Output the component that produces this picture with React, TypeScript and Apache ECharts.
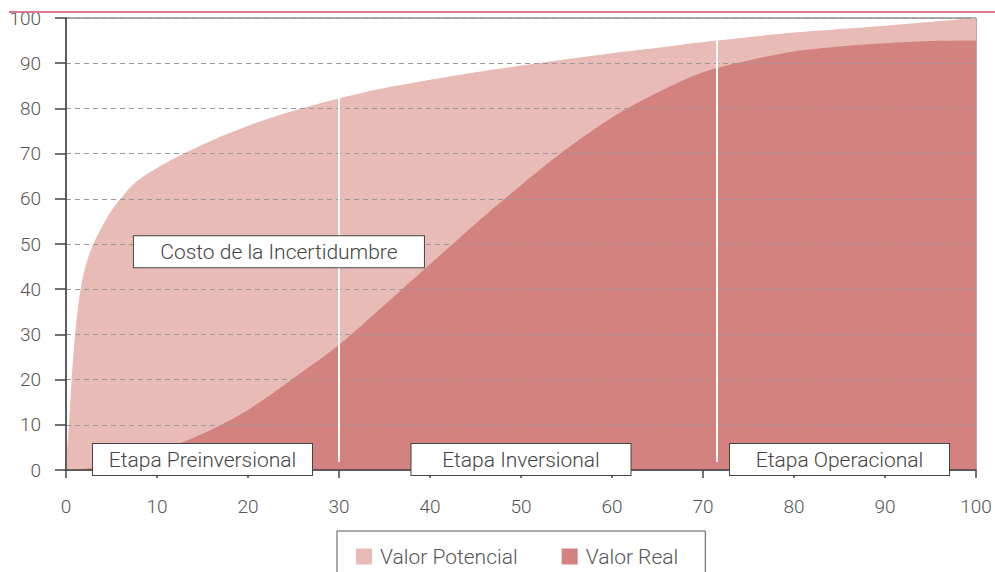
import React, { useEffect, useRef } from "react";
import * as echarts from "echarts";

// Avance del proyecto (%) en el eje X, valor (%) en el eje Y
const potentialX = [0, 0.1, 0.33, 0.62, 1, 1.6, 2.2, 3, 4, 5, 6, 7, 8, 9, 10, 12, 14, 17, 21.3, 25, 30, 35, 42, 47, 53, 60, 65, 71.5, 80, 90, 100];
const potentialY = [0, 4, 10, 20, 30, 40, 45.5, 50, 54, 57.4, 60, 62.4, 64.2, 65.6, 66.8, 69, 71, 73.8, 77.1, 79.5, 82.2, 84.5, 87, 88.6, 90.3, 92.2, 93.4, 95, 96.8, 98.3, 100];

const realX = [0, 5, 10, 15, 20, 25, 30, 35, 40, 45, 50, 55, 60, 65, 70, 75, 80, 85, 90, 95, 100];
const realY = [0, 1, 4, 8, 13.3, 20.3, 27.7, 36.5, 45.5, 54.5, 63, 71, 78, 83.5, 88, 90.6, 92.6, 93.7, 94.4, 94.9, 95];

// Límites entre etapas y altura donde terminan las líneas
const stageLimits = [30, 71.5];
const stageLimitTops = [82.2, 95];

const stageNames = ["Etapa Preinversional", "Etapa Inversional", "Etapa Operacional"];
const stageCenters = [15, 50, 85];

const uncertaintyLabel = "Costo de la Incertidumbre";
const uncertaintyAt = [23.4, 48.3];

const seriesNames = ["Valor Potencial", "Valor Real"];
const axisTicks = [0, 10, 20, 30, 40, 50, 60, 70, 80, 90, 100];

const COLOR_POT = "#e8bbb7";
const COLOR_REAL = "#d4827f";
const FONT = "Roboto, 'Liberation Sans', sans-serif";
const TEXT = "#555";

export default function App() {
  const ref = useRef<HTMLDivElement>(null);

  useEffect(() => {
    if (!ref.current) return;
    const chart = echarts.init(ref.current, undefined, { renderer: "svg" });

    const boxLabel = {
      show: true,
      position: "inside",
      formatter: "{b}",
      color: "#444",
      fontFamily: FONT,
      fontWeight: 300,
      fontSize: 21,
      backgroundColor: "#fff",
      borderColor: "#444",
      borderWidth: 1,
      width: 219,
      height: 31,
      lineHeight: 31,
      align: "center",
      verticalAlign: "middle",
      padding: 0,
    };

    chart.setOption({
      animation: false,
      textStyle: { fontFamily: FONT },
      grid: {
        left: 66,
        right: 19,
        top: 18,
        bottom: 102,
        show: true,
        borderColor: "#555",
        borderWidth: 1,
        backgroundColor: "transparent",
      },
      legend: {
        data: seriesNames,
        left: 337,
        top: 531,
        padding: [15, 27, 30, 19],
        borderColor: "#555",
        borderWidth: 1,
        itemWidth: 16,
        itemHeight: 16,
        itemGap: 44,
        icon: "rect",
        textStyle: { color: TEXT, fontSize: 21, fontWeight: 300, fontFamily: FONT, padding: [0, 0, 0, 3] },
      },
      graphic: [
        {
          type: "line",
          shape: { x1: 9, y1: 12, x2: 995, y2: 12 },
          style: { stroke: "#d87a91", lineWidth: 2 },
          z: 10,
        },
      ],
      xAxis: {
        type: "value",
        min: 0,
        max: 100,
        interval: 10,
        z: 3,
        axisLine: { show: true, lineStyle: { color: "#444", width: 1.5 } },
        axisTick: { show: true, length: 8, lineStyle: { color: "#444", width: 1.5 } },
        axisLabel: {
          color: TEXT,
          fontSize: 19,
          fontWeight: 300,
          margin: 27,
          formatter: (v: number) => (axisTicks.includes(v) ? String(v) : ""),
        },
        splitLine: { show: false },
      },
      yAxis: {
        type: "value",
        min: 0,
        max: 100,
        interval: 10,
        z: 3,
        axisLine: { show: true, lineStyle: { color: "#444", width: 1.5 } },
        axisTick: { show: true, length: 11, lineStyle: { color: "#444", width: 1.5 } },
        axisLabel: {
          color: TEXT,
          fontSize: 19,
          fontWeight: 300,
          margin: 25,
          formatter: (v: number) => (axisTicks.includes(v) ? String(v) : ""),
        },
        splitLine: { show: true, lineStyle: { color: "#999", type: [5, 4], width: 1 } },
      },
      series: [
        {
          name: seriesNames[0],
          type: "line",
          data: potentialX.map((x, i) => [x, potentialY[i]]),
          smooth: 0.3,
          showSymbol: false,
          lineStyle: { width: 0 },
          itemStyle: { color: COLOR_POT },
          areaStyle: { color: COLOR_POT, opacity: 1 },
          z: 1,
        },
        {
          name: seriesNames[1],
          type: "line",
          data: realX.map((x, i) => [x, realY[i]]),
          smooth: 0.3,
          showSymbol: false,
          lineStyle: { width: 0 },
          itemStyle: { color: COLOR_REAL },
          areaStyle: { color: COLOR_REAL, opacity: 1 },
          z: 2,
        },
        {
          name: "anotaciones",
          type: "line",
          data: [],
          z: 5,
          silent: true,
          markLine: {
            silent: true,
            symbol: "none",
            label: { show: false },
            lineStyle: { color: "#fff", width: 2, type: "solid" },
            data: stageLimits.map((x, i) => [
              { coord: [x, stageLimitTops[i]] },
              { coord: [x, 1.8] },
            ]),
          },
          markPoint: {
            silent: true,
            symbol: "rect",
            symbolSize: 0,
            label: boxLabel,
            data: [
              ...stageNames.map((n, i) => ({ name: n, coord: [stageCenters[i], 2.3] })),
              { name: uncertaintyLabel, coord: uncertaintyAt, label: { ...boxLabel, width: 290 } },
            ],
          },
        },
      ],
    });

    return () => chart.dispose();
  }, []);

  return <div ref={ref} style={{ width: 995, height: 572, position: "absolute", left: 0, top: 0 }} />;
}
